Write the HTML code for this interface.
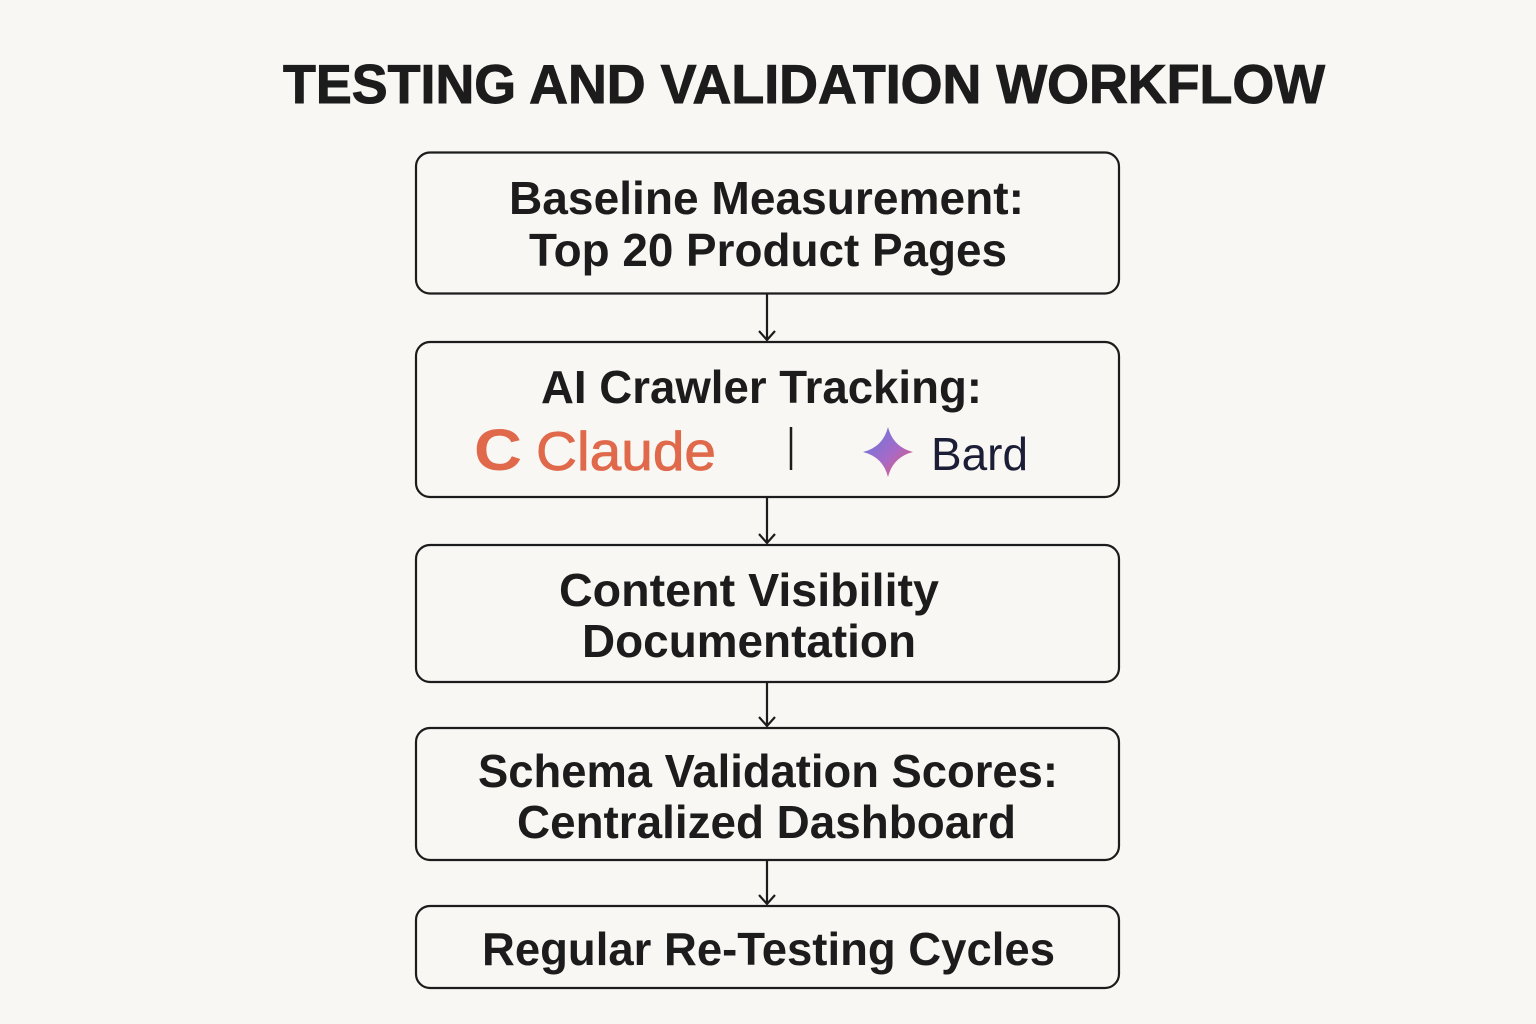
<!DOCTYPE html>
<html><head><meta charset="utf-8"><style>
html,body{margin:0;padding:0;background:#f9f7f3;}
svg{display:block;}
text{font-family:"Liberation Sans",sans-serif;font-weight:bold;fill:#1c1c1c;}
</style></head><body>
<svg width="1536" height="1024" viewBox="0 0 1536 1024" xmlns="http://www.w3.org/2000/svg">
<defs>
<linearGradient id="g" x1="0" y1="0" x2="1" y2="1">
<stop offset="0" stop-color="#5f7be0"/><stop offset="0.55" stop-color="#a66ac8"/><stop offset="1" stop-color="#e85a6a"/>
</linearGradient>
</defs>
<rect width="1536" height="1024" fill="#f9f7f3"/>
<text x="283" y="103" font-size="55" textLength="1042" lengthAdjust="spacingAndGlyphs" stroke="#1c1c1c" stroke-width="1">TESTING AND VALIDATION WORKFLOW</text>

<g fill="none" stroke="#1c1c1c" stroke-width="2.2">
<rect x="416" y="152.5" width="703" height="141" rx="14"/>
<rect x="416" y="342" width="703" height="155" rx="14"/>
<rect x="416" y="545" width="703" height="137" rx="14"/>
<rect x="416" y="728" width="703" height="132" rx="14"/>
<rect x="416" y="906" width="703" height="82" rx="14"/>
<path d="M767 294V340M759 331L767 340L775 331"/>
<path d="M767 497V543M759 534L767 543L775 534"/>
<path d="M767 682V726M759 717L767 726L775 717"/>
<path d="M767 860V904M759 895L767 904L775 895"/>
<path d="M791 427V470" stroke-width="2.5"/>
</g>

<text x="509" y="214" font-size="46" textLength="515" lengthAdjust="spacingAndGlyphs">Baseline Measurement:</text>
<text x="529" y="266" font-size="46" textLength="478" lengthAdjust="spacingAndGlyphs">Top 20 Product Pages</text>

<text x="541" y="403" font-size="46" textLength="441" lengthAdjust="spacingAndGlyphs">AI Crawler Tracking:</text>
<text x="474" y="470" font-size="58" style="fill:#e0694b" textLength="48" lengthAdjust="spacingAndGlyphs">C</text>
<text x="536" y="470" font-size="55" style="font-weight:normal;fill:#e0694b" stroke="#e0694b" stroke-width="0.8" textLength="180" lengthAdjust="spacingAndGlyphs">Claude</text>
<path d="M888 427 Q893 447 913 452 Q893 457 888 477 Q883 457 863 452 Q883 447 888 427Z" fill="url(#g)"/>
<text x="931" y="470" font-size="46" style="font-weight:normal;fill:#1b1e36" textLength="97" lengthAdjust="spacingAndGlyphs">Bard</text>

<text x="559" y="606" font-size="46" textLength="380" lengthAdjust="spacingAndGlyphs">Content Visibility</text>
<text x="582" y="657" font-size="46" textLength="334" lengthAdjust="spacingAndGlyphs">Documentation</text>

<text x="478" y="787" font-size="46" textLength="580" lengthAdjust="spacingAndGlyphs">Schema Validation Scores:</text>
<text x="517" y="838" font-size="46" textLength="499" lengthAdjust="spacingAndGlyphs">Centralized Dashboard</text>

<text x="482" y="965" font-size="46" textLength="573" lengthAdjust="spacingAndGlyphs">Regular Re-Testing Cycles</text>
</svg>
</body></html>
